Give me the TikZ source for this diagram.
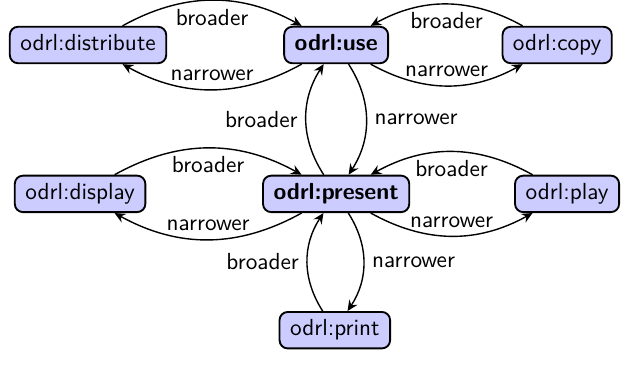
\documentclass[tikz,border=0pt]{standalone}
\usetikzlibrary{arrows.meta}
\definecolor{ActClr}{rgb}{0.8,0.8,1}

\begin{document}
\begin{tikzpicture}[>={Stealth[length=4.6pt,width=4.2pt,inset=1.6pt]},font=\sffamily,
  act/.style={draw,thick,fill=ActClr,rounded corners=3.5pt,
    text height=1.65ex,text depth=.5ex,inner xsep=4.5pt,inner ysep=3.2pt},
  rel/.style={->,semithick}]
\useasboundingbox (0,0) rectangle (9.40,-5.62);

\node[act] (distribute) at (1.33,-0.68) {odrl:distribute};
\node[act] (use) at (5.08,-0.68) {\bfseries odrl:use};
\node[act] (copy) at (8.42,-0.68) {odrl:copy};
\node[act] (display) at (1.21,-2.93) {odrl:display};
\node[act] (present) at (5.08,-2.93) {\bfseries odrl:present};
\node[act] (play) at (8.57,-2.93) {odrl:play};
\node[act] (print) at (5.06,-4.99) {odrl:print};

\draw[rel,bend left=29] (distribute) to node[below]{broader} (use);
\draw[rel,bend left=29] (use) to node[above]{narrower} (distribute);
\draw[rel,bend right=29] (copy) to node[below]{broader} (use);
\draw[rel,bend right=29] (use) to node[above]{narrower} (copy);

\draw[rel,bend left=33] (present) to node[left]{broader} (use);
\draw[rel,bend left=33] (use) to node[right]{narrower} (present);

\draw[rel,bend left=29] (display) to node[below]{broader} (present);
\draw[rel,bend left=29] (present) to node[above]{narrower} (display);
\draw[rel,bend right=29] (play) to node[below]{broader} (present);
\draw[rel,bend right=29] (present) to node[above]{narrower} (play);

\draw[rel,bend left=33] (print) to node[left]{broader} (present);
\draw[rel,bend left=33] (present) to node[right]{narrower} (print);

\end{tikzpicture}
\end{document}
